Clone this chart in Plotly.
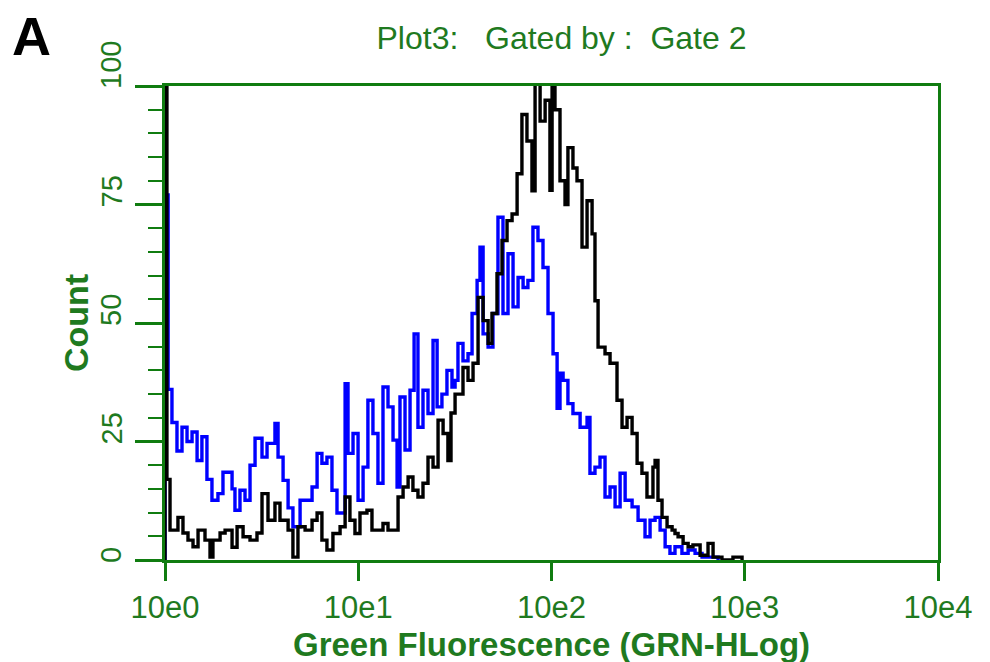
import plotly.graph_objects as go

# Histogram channels expressed as log10(fluorescence) of each bin's left edge
black_log = [0.000, 0.000, 0.010, 0.026, 0.067, 0.093, 0.119, 0.145, 0.171, 0.207, 0.233, 0.248,
             0.285, 0.311, 0.347, 0.373, 0.404, 0.440, 0.476, 0.502, 0.533, 0.569, 0.595, 0.637,
             0.662, 0.688, 0.725, 0.761, 0.787, 0.812, 0.838, 0.869, 0.906, 0.932, 0.957, 0.983,
             1.009, 1.045, 1.071, 1.128, 1.154, 1.206, 1.232, 1.258, 1.283, 1.309, 1.335, 1.361,
             1.387, 1.413, 1.439, 1.464, 1.480, 1.501, 1.542, 1.568, 1.594, 1.620, 1.646, 1.672,
             1.692, 1.718, 1.744, 1.770, 1.796, 1.822, 1.847, 1.873, 1.899, 1.915, 1.941, 1.967,
             1.992, 2.003, 2.018, 2.044, 2.070, 2.085, 2.111, 2.132, 2.158, 2.184, 2.210, 2.225,
             2.241, 2.277, 2.303, 2.339, 2.365, 2.391, 2.417, 2.443, 2.468, 2.494, 2.525, 2.536,
             2.551, 2.572, 2.598, 2.624, 2.639, 2.655, 2.681, 2.707, 2.732, 2.769, 2.810, 2.836,
             2.882, 2.939, 2.986]
black_count = [0, 130, 17, 6.3, 9, 5.7, 4.2, 2.8, 6.3, 4.2, 0.6, 4.2,
               5.7, 6.3, 2.7, 7, 4.9, 4.2, 5.7, 14, 8.4, 12, 8.4, 6.3,
               0.6, 7, 6.3, 8.4, 9.9, 4.2, 2.1, 5.6, 7, 13.3, 8.4, 5.6,
               9.9, 10.5, 6.3, 7.7, 6.3, 13.3, 15.4, 17.5, 14.7, 13.3, 16.2, 21.7,
               19.6, 29.5, 26.7, 21, 31, 35, 40.6, 37.9, 41.5, 55.4, 50.5, 45.7,
               52, 60.4, 67.4, 71.6, 73, 81.5, 94, 88.4, 77.9, 101, 92.6, 97,
               78, 101, 95, 80, 75, 87, 82.7, 80, 66, 75.8, 68.8, 54.7,
               44.9, 43.5, 41.5, 33.7, 28, 30.1, 26.7, 20.4, 18.3, 13.3, 19.6, 21,
               12.6, 9, 7, 6.3, 5.6, 4.9, 3.5, 2.8, 3.2, 1, 3.5, 0.6,
               0, 0.6, 0]

blue_log = [0.000, 0.000, 0.016, 0.036, 0.062, 0.088, 0.114, 0.140, 0.166, 0.191, 0.217, 0.243,
            0.274, 0.300, 0.347, 0.362, 0.388, 0.414, 0.440, 0.466, 0.502, 0.528, 0.569, 0.585,
            0.611, 0.637, 0.662, 0.699, 0.761, 0.787, 0.812, 0.838, 0.864, 0.890, 0.932, 0.947,
            0.973, 0.999, 1.025, 1.050, 1.076, 1.102, 1.128, 1.154, 1.180, 1.201, 1.216, 1.242,
            1.268, 1.289, 1.309, 1.335, 1.361, 1.387, 1.408, 1.433, 1.459, 1.485, 1.501, 1.516,
            1.542, 1.568, 1.589, 1.615, 1.630, 1.646, 1.672, 1.697, 1.723, 1.749, 1.775, 1.801,
            1.827, 1.853, 1.878, 1.904, 1.930, 1.956, 1.982, 2.008, 2.029, 2.044, 2.060, 2.085,
            2.111, 2.148, 2.184, 2.199, 2.225, 2.251, 2.277, 2.303, 2.329, 2.355, 2.381, 2.417,
            2.448, 2.484, 2.510, 2.536, 2.562, 2.588, 2.613, 2.639, 2.675, 2.707, 2.743, 2.779,
            2.862]
blue_count = [0, 77, 36, 29, 23, 28, 25, 27, 21, 26, 17, 12.6,
              14, 18.5, 15, 10.5, 14.7, 12.6, 20, 25.7, 21.7, 24.6, 28.8, 21.7,
              16.8, 11, 7, 12.6, 15.4, 22.5, 20.4, 21.7, 14.7, 9.9, 37.2, 22.5,
              26.7, 12.6, 19.6, 33.7, 26.7, 16.2, 36.5, 32.3, 25.3, 15.4, 34.4, 23.2,
              35.8, 47.7, 28, 35.8, 30.9, 46.3, 32.3, 35, 40, 36.5, 37.9, 45.7,
              42, 43.5, 52, 59, 66, 47.7, 44.9, 52, 72.3, 52, 64.6, 53.4,
              59.6, 57.5, 59, 70.2, 67.4, 61.7, 52, 43.5, 32, 39.4, 37.9, 33,
              30.9, 28, 30.1, 18.3, 19.6, 21.7, 13.3, 15.4, 11.2, 18.3, 12.6, 11.2,
              8.4, 4.9, 8.4, 9, 6.3, 2.8, 1.4, 2.8, 1.4, 2.1, 1.4, 0.6,
              0]

x_tickvals = [1, 10, 100, 1000, 10000]
x_ticktext = ["10e0", "10e1", "10e2", "10e3", "10e4"]
x_minor = [m * 10 ** e for e in range(4) for m in range(2, 10)]
y_tickvals = [0, 25, 50, 75, 100]
y_minor = list(range(5, 100, 5))

GREEN_LINE = "#107c10"
GREEN_TEXT = "#1f7a1f"
FONT = "Liberation Sans, Arial, sans-serif"

fig = go.Figure()
fig.add_trace(go.Scatter(x=[10 ** v for v in blue_log], y=blue_count, mode="lines",
                         line=dict(color="#0000ff", width=3.4, shape="hv"), showlegend=False))
fig.add_trace(go.Scatter(x=[10 ** v for v in black_log], y=black_count, mode="lines",
                         line=dict(color="#000000", width=3.4, shape="hv"), showlegend=False))

fig.update_layout(
    width=990, height=662,
    margin=dict(l=165, r=52, t=86, b=102),
    paper_bgcolor="white", plot_bgcolor="white",
    font=dict(family=FONT, color=GREEN_TEXT),
    title=dict(text="Plot3:   Gated by :  Gate 2", x=561.5 / 990, xanchor="center",
               y=1 - 38 / 662, yanchor="middle",
               font=dict(size=32, color=GREEN_TEXT, family=FONT)),
    # main x axis: line, box and tick labels
    xaxis=dict(type="log", range=[0, 4], showgrid=False, zeroline=False,
               showline=True, linecolor=GREEN_LINE, linewidth=3, mirror=True,
               ticks="outside", ticklen=18, tickwidth=2.5, tickcolor=GREEN_LINE,
               tickmode="array", tickvals=x_tickvals, ticktext=x_ticktext,
               tickfont=dict(size=31, color=GREEN_TEXT, family=FONT)),
    # overlay x axis: long decade ticks and minor ticks, no labels
    xaxis2=dict(type="log", range=[0, 4], overlaying="x", anchor="y", side="bottom",
                showgrid=False, zeroline=False, showline=False, showticklabels=False,
                ticks="outside", ticklen=25, tickwidth=2.5, tickcolor=GREEN_LINE,
                tickmode="array", tickvals=x_tickvals,
                minor=dict(tickmode="array", tickvals=x_minor, ticks="outside",
                           ticklen=13, tickwidth=2, tickcolor=GREEN_LINE, showgrid=False)),
    yaxis=dict(range=[0, 100], showgrid=False, zeroline=False,
               showline=True, linecolor=GREEN_LINE, linewidth=3, mirror=True,
               ticks="outside", ticklen=27, tickwidth=2.5, tickcolor=GREEN_LINE,
               tickmode="array", tickvals=y_tickvals, showticklabels=False,
               minor=dict(tickmode="array", tickvals=y_minor, ticks="outside",
                          ticklen=14, tickwidth=2, tickcolor=GREEN_LINE, showgrid=False),
               title=dict(text="<b>Count</b>", standoff=37,
                          font=dict(size=34, color=GREEN_TEXT, family=FONT))),
)

# x-axis title
fig.add_annotation(x=0.5, xref="paper", xanchor="center", y=0, yref="paper",
                   yshift=-84, yanchor="middle", text="<b>Green Fluorescence (GRN-HLog)</b>",
                   showarrow=False, font=dict(size=33, color=GREEN_TEXT, family=FONT))

for v in y_tickvals:
    fig.add_annotation(x=0, xref="paper", xshift=-54, xanchor="center",
                       y=v, yref="y", yanchor="bottom", yshift=-5, text=str(v), textangle=-90,
                       showarrow=False, font=dict(size=29, color=GREEN_TEXT, family=FONT))

fig.add_annotation(x=0, xref="paper", xshift=-134, xanchor="center",
                   y=1, yref="paper", yshift=50, yanchor="middle", text="<b>A</b>",
                   showarrow=False, font=dict(size=54, color="black", family=FONT))

fig.write_html("out.html")
